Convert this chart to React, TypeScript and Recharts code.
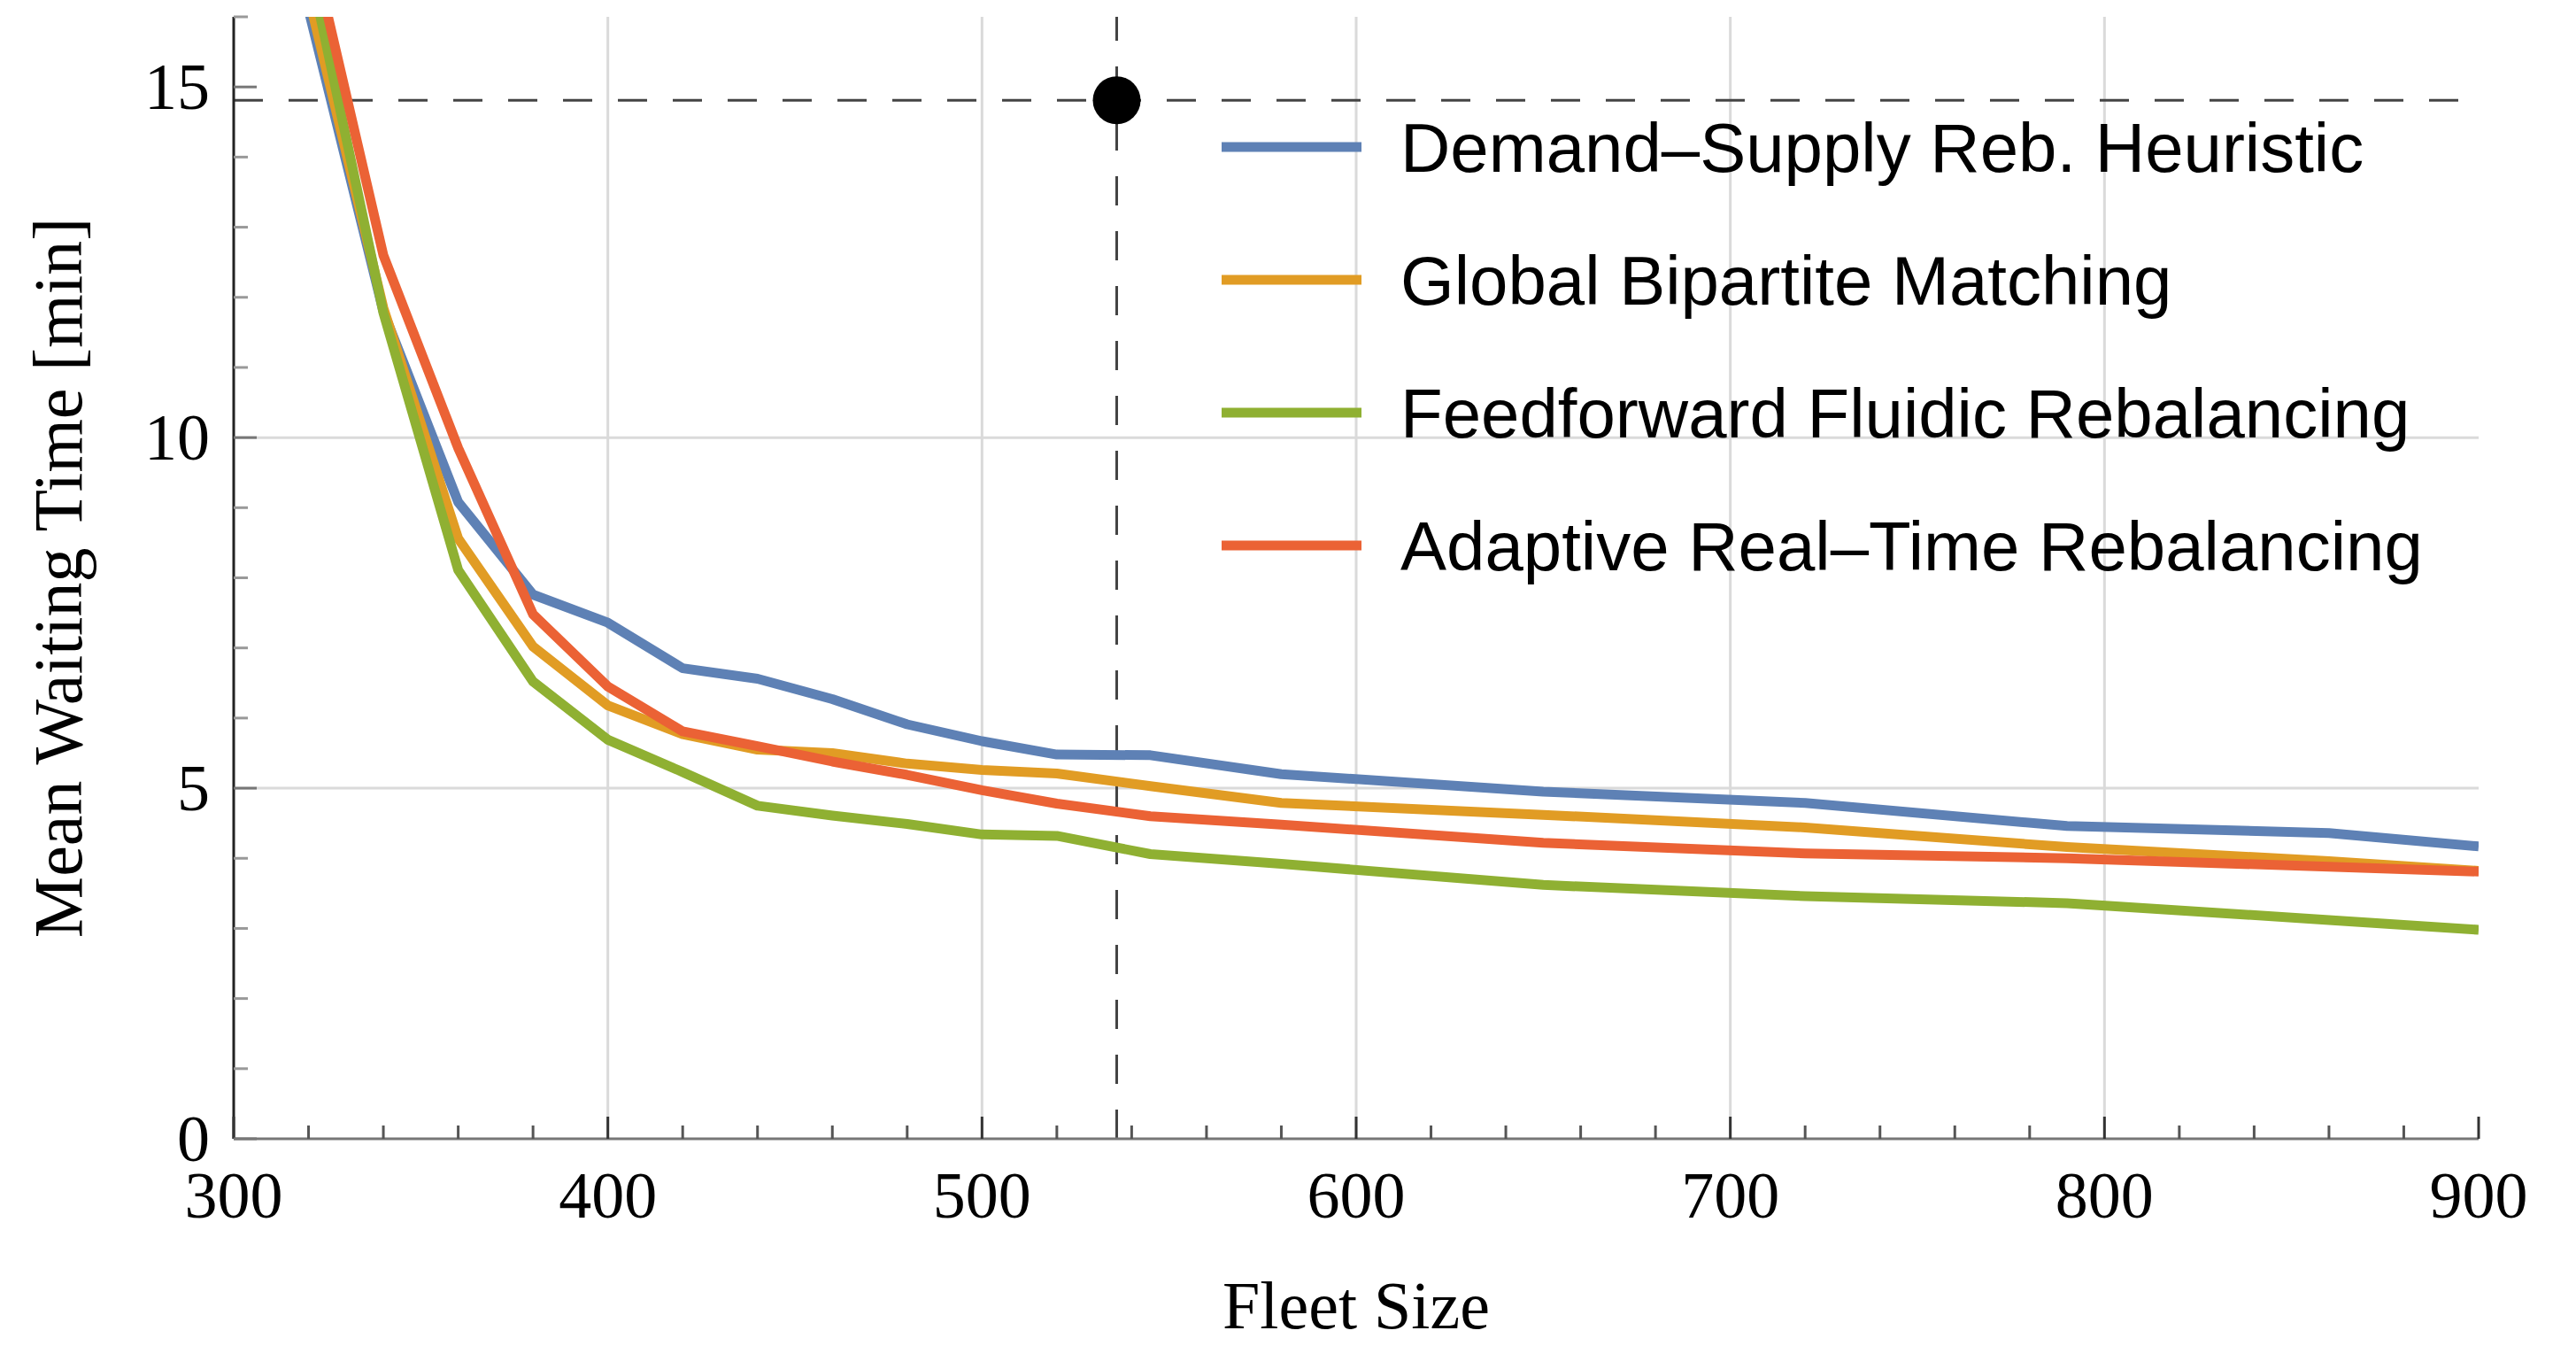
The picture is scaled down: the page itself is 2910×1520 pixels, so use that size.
import React from "react";
import {
  LineChart,
  Line,
  XAxis,
  YAxis,
  CartesianGrid,
  ReferenceLine,
  ReferenceDot,
  Legend,
  Label,
} from "recharts";

// fleet sizes where the simulations were run
const FLEET_SIZES = [320, 340, 360, 380, 400, 420, 440, 460, 480, 500, 520, 545, 580, 650, 720, 790, 860, 900];

// mean waiting time [min] per method
const DEMAND_SUPPLY = [16.1, 11.8, 9.08, 7.76, 7.36, 6.71, 6.56, 6.27, 5.91, 5.67, 5.48, 5.47, 5.2, 4.95, 4.79, 4.46, 4.36, 4.17];
const BIPARTITE = [16.3, 11.85, 8.56, 7.02, 6.18, 5.77, 5.55, 5.5, 5.35, 5.26, 5.21, 5.03, 4.79, 4.62, 4.44, 4.16, 3.96, 3.82];
const FEEDFORWARD = [16.8, 11.78, 8.11, 6.52, 5.69, 5.23, 4.75, 4.61, 4.49, 4.34, 4.32, 4.06, 3.92, 3.62, 3.46, 3.36, 3.12, 2.98];
const ADAPTIVE = [17.2, 12.6, 9.85, 7.48, 6.45, 5.81, 5.6, 5.38, 5.19, 4.97, 4.78, 4.6, 4.48, 4.22, 4.07, 4.0, 3.88, 3.81];

// axis ticks and grid
const X_TICKS = [300, 320, 340, 360, 380, 400, 420, 440, 460, 480, 500, 520, 540, 560, 580, 600, 620, 640, 660, 680, 700, 720, 740, 760, 780, 800, 820, 840, 860, 880, 900];
const Y_TICKS = [0, 1, 2, 3, 4, 5, 6, 7, 8, 9, 10, 11, 12, 13, 14, 15, 16];
const GRID_X = [400, 500, 600, 700, 800];
const GRID_Y = [5, 10];

// the marked operating point
const TARGET_FLEET = 536;
const TARGET_WAIT = 14.81;

const SERIES = [
  { key: "demandSupply", name: "Demand–Supply Reb. Heuristic", color: "#5E81B5", values: DEMAND_SUPPLY },
  { key: "bipartite", name: "Global Bipartite Matching", color: "#E19C24", values: BIPARTITE },
  { key: "feedforward", name: "Feedforward Fluidic Rebalancing", color: "#8FB032", values: FEEDFORWARD },
  { key: "adaptive", name: "Adaptive Real–Time Rebalancing", color: "#EB6235", values: ADAPTIVE },
];

const data = FLEET_SIZES.map((fleet, i) => {
  const row: any = { fleet };
  SERIES.forEach((s) => {
    row[s.key] = s.values[i];
  });
  return row;
});

const SERIF = "'Liberation Serif', 'Times New Roman', serif";
const SANS = "'Liberation Sans', Arial, sans-serif";

// ticks point into the plot, Mathematica style
const XTick = (props: any) => {
  const { x, y, payload } = props;
  const major = payload.value % 100 === 0;
  return (
    <g>
      <line
        x1={x}
        x2={x}
        y1={y}
        y2={y - (major ? 25 : 15)}
        stroke={major ? "#333" : "#555"}
        strokeWidth={3}
      />
      {major && (
        <text x={x} y={y + 89} textAnchor="middle" fontFamily={SERIF} fontSize={74} fill="#000">
          {payload.value}
        </text>
      )}
    </g>
  );
};

const YTick = (props: any) => {
  const { x, y, payload } = props;
  const major = payload.value % 5 === 0;
  return (
    <g>
      <line
        x1={x}
        x2={x + (major ? 26 : 16)}
        y1={y}
        y2={y}
        stroke={major ? "#777" : "#999"}
        strokeWidth={3}
      />
      {major && (
        <text x={x - 27} y={y + 25} textAnchor="end" fontFamily={SERIF} fontSize={74} fill="#000">
          {payload.value}
        </text>
      )}
    </g>
  );
};

const renderLegend = () => (
  <svg width={1450} height={580}>
    {SERIES.map((s, i) => (
      <g key={s.key}>
        <line x1={0} x2={158} y1={66 + i * 150} y2={66 + i * 150} stroke={s.color} strokeWidth={11} />
        <text x={202} y={94 + i * 150} fontFamily={SANS} fontSize={78} fill="#000">
          {s.name}
        </text>
      </g>
    ))}
  </svg>
);

export default function App() {
  return (
    <div style={{ position: "absolute", left: 0, top: 0, background: "#fff" }}>
      <LineChart
        width={2910}
        height={1520}
        data={data}
        margin={{ top: 19, right: 110, bottom: 0, left: 0 }}
      >
        <CartesianGrid
          horizontalValues={GRID_Y}
          verticalValues={GRID_X}
          stroke="#dadada"
          strokeWidth={3}
        />
        <XAxis
          dataKey="fleet"
          type="number"
          domain={[300, 900]}
          ticks={X_TICKS}
          interval={0}
          allowDataOverflow
          height={234}
          tickSize={0}
          tickMargin={0}
          tickLine={false}
          tick={<XTick />}
          axisLine={{ stroke: "#777", strokeWidth: 3 }}
        >
          <Label
            value="Fleet Size"
            position="insideBottom"
            offset={20}
            fontFamily={SERIF}
            fontSize={76}
            fill="#000"
          />
        </XAxis>
        <YAxis
          type="number"
          domain={[0, 16]}
          ticks={Y_TICKS}
          interval={0}
          allowDataOverflow
          width={264}
          tickSize={0}
          tickMargin={0}
          tickLine={false}
          tick={<YTick />}
          axisLine={{ stroke: "#222", strokeWidth: 3 }}
        >
          <Label
            value="Mean Waiting Time [min]"
            angle={-90}
            position="insideLeft"
            offset={64}
            style={{ textAnchor: "middle" }}
            fontFamily={SERIF}
            fontSize={78}
            fill="#000"
          />
        </YAxis>
        <ReferenceLine y={TARGET_WAIT} stroke="#444" strokeWidth={3} strokeDasharray="33 29" />
        <ReferenceLine x={TARGET_FLEET} stroke="#444" strokeWidth={3} strokeDasharray="33 29" />
        {SERIES.map((s) => (
          <Line
            key={s.key}
            type="linear"
            dataKey={s.key}
            name={s.name}
            stroke={s.color}
            strokeWidth={11}
            strokeLinejoin="round"
            dot={false}
            activeDot={false}
            isAnimationActive={false}
          />
        ))}
        <ReferenceDot x={TARGET_FLEET} y={TARGET_WAIT} r={27} fill="#000" stroke="none" />
        <Legend
          layout="vertical"
          align="center"
          verticalAlign="middle"
          content={renderLegend}
          wrapperStyle={{ left: 1380, top: 100, width: 1450, height: 580 }}
        />
      </LineChart>
    </div>
  );
}
